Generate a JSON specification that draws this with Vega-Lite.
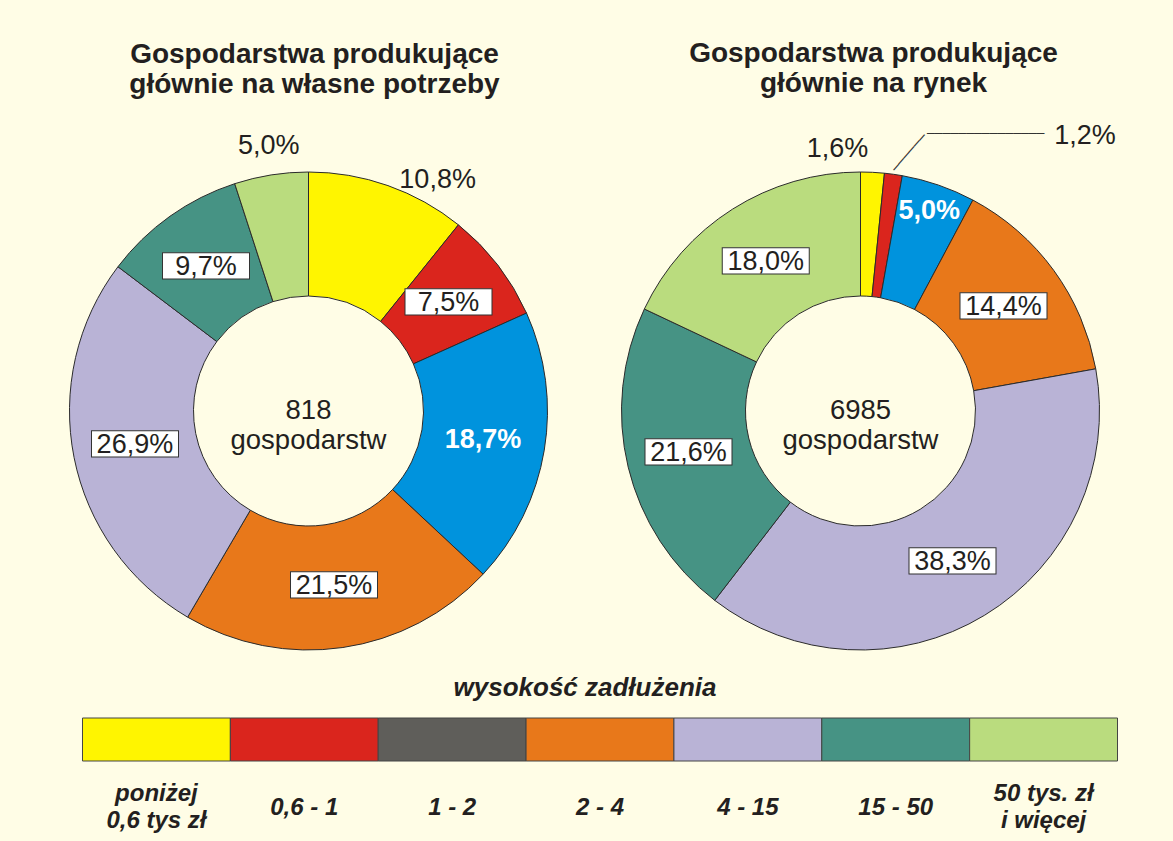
{
  "$schema": "https://vega.github.io/schema/vega-lite/v6.json",
  "background": "#FFFDE6",
  "padding": {"left": 48, "top": 40, "right": 21, "bottom": 20},
  "config": {
    "view": {"stroke": null},
    "font": "Liberation Sans",
    "text": {"font": "Liberation Sans", "fill": "#231F20"}
  },
  "datasets": {
    "left": [
      {"k": 1, "cat": "poniżej 0,6 tys zł", "pct": 10.8, "lab": "10,8%"},
      {"k": 2, "cat": "0,6 - 1", "pct": 7.5, "lab": "7,5%"},
      {"k": 3, "cat": "1 - 2", "pct": 18.7, "lab": "18,7%"},
      {"k": 4, "cat": "2 - 4", "pct": 21.5, "lab": "21,5%"},
      {"k": 5, "cat": "4 - 15", "pct": 26.9, "lab": "26,9%"},
      {"k": 6, "cat": "15 - 50", "pct": 9.7, "lab": "9,7%"},
      {"k": 7, "cat": "50 tys. zł i więcej", "pct": 5.0, "lab": "5,0%"}
    ],
    "right": [
      {"k": 1, "cat": "poniżej 0,6 tys zł", "pct": 1.6, "lab": "1,6%"},
      {"k": 2, "cat": "0,6 - 1", "pct": 1.2, "lab": "1,2%"},
      {"k": 3, "cat": "1 - 2", "pct": 5.0, "lab": "5,0%"},
      {"k": 4, "cat": "2 - 4", "pct": 14.4, "lab": "14,4%"},
      {"k": 5, "cat": "4 - 15", "pct": 38.3, "lab": "38,3%"},
      {"k": 6, "cat": "15 - 50", "pct": 21.6, "lab": "21,6%"},
      {"k": 7, "cat": "50 tys. zł i więcej", "pct": 18.0, "lab": "18,0%"}
    ],
    "legend": [
      {"k": 1, "cat": "poniżej|0,6 tys zł"},
      {"k": 2, "cat": "0,6 - 1"},
      {"k": 3, "cat": "1 - 2"},
      {"k": 4, "cat": "2 - 4"},
      {"k": 5, "cat": "4 - 15"},
      {"k": 6, "cat": "15 - 50"},
      {"k": 7, "cat": "50  tys. zł|i więcej"}
    ]
  },
  "resolve": {"scale": {"color": "independent"}},
  "spacing": 8,
  "vconcat": [
    {
      "spacing": 0,
      "hconcat": [
        {
          "width": 521,
          "height": 500,
          "title": {
            "text": ["Gospodarstwa produkujące", "głównie na własne potrzeby"],
            "font": "Liberation Sans", "fontSize": 28, "fontWeight": "bold", "color": "#231F20",
            "lineHeight": 30, "baseline": "bottom", "offset": 5, "anchor": "middle", "dx": 6
          },
          "data": {"name": "left"},
          "layer": [
            {
              "mark": {"type": "arc", "innerRadius": 115, "outerRadius": 239, "stroke": "#2b2b2b", "strokeWidth": 1},
              "encoding": {
                "theta": {"field": "pct", "type": "quantitative", "stack": true},
                "order": {"field": "k", "type": "quantitative"},
                "color": {"field": "cat", "type": "nominal", "legend": null,
                  "scale": {"domain": ["poniżej 0,6 tys zł", "0,6 - 1", "1 - 2", "2 - 4", "4 - 15", "15 - 50", "50 tys. zł i więcej"],
                            "range": ["#FFF500", "#DA251D", "#0093DD", "#E8781A", "#B9B3D6", "#469384", "#BADC7E"]}}
              }
            },
            {
              "mark": {"type": "text", "font": "Liberation Sans", "fontSize": 87, "radius": 177, "fill": "white", "stroke": "#333", "strokeWidth": 1, "align": "center", "baseline": "middle", "dy": -14},
              "encoding": {
                "theta": {"field": "pct", "type": "quantitative", "stack": true},
                "order": {"field": "k", "type": "quantitative"},
                "detail": {"field": "k", "type": "nominal"},
                "text": {"condition": {"test": "datum.k == 2 || datum.k == 4 || datum.k == 5 || datum.k == 6", "value": "▬"}, "value": ""}
              }
            },
            {
              "mark": {"type": "text", "fontSize": 27, "radius": 177, "align": "center", "baseline": "middle"},
              "encoding": {
                "theta": {"field": "pct", "type": "quantitative", "stack": true},
                "order": {"field": "k", "type": "quantitative"},
                "detail": {"field": "k", "type": "nominal"},
                "text": {"condition": {"test": "datum.k == 2 || datum.k == 4 || datum.k == 5 || datum.k == 6", "field": "lab"}, "value": ""}
              }
            },
            {
              "mark": {"type": "text", "fontSize": 27, "fontWeight": "bold", "fill": "white", "radius": 177, "align": "center", "baseline": "middle"},
              "encoding": {
                "theta": {"field": "pct", "type": "quantitative", "stack": true},
                "order": {"field": "k", "type": "quantitative"},
                "detail": {"field": "k", "type": "nominal"},
                "text": {"condition": {"test": "datum.k == 3", "field": "lab"}, "value": ""}
              }
            },
            {
              "mark": {"type": "text", "fontSize": 27, "radius": 177, "align": "center", "baseline": "middle", "dx": -12, "dy": -90},
              "encoding": {
                "theta": {"field": "pct", "type": "quantitative", "stack": true},
                "order": {"field": "k", "type": "quantitative"},
                "detail": {"field": "k", "type": "nominal"},
                "text": {"condition": {"test": "datum.k == 7", "field": "lab"}, "value": ""}
              }
            },
            {
              "mark": {"type": "text", "fontSize": 27, "radius": 177, "align": "left", "baseline": "middle", "dx": 32, "dy": -64},
              "encoding": {
                "theta": {"field": "pct", "type": "quantitative", "stack": true},
                "order": {"field": "k", "type": "quantitative"},
                "detail": {"field": "k", "type": "nominal"},
                "text": {"condition": {"test": "datum.k == 1", "field": "lab"}, "value": ""}
              }
            },
            {
              "data": {"values": [{"t": "818 gospodarstw"}]},
              "mark": {"type": "text", "fontSize": 27.5, "lineHeight": 30, "lineBreak": " ", "align": "center", "baseline": "middle"},
              "encoding": {"text": {"field": "t", "type": "nominal"}}
            }
          ]
        },
        {
          "width": 583,
          "height": 500,
          "title": {
            "text": ["Gospodarstwa produkujące", "głównie na rynek"],
            "font": "Liberation Sans", "fontSize": 28, "fontWeight": "bold", "color": "#231F20",
            "lineHeight": 30, "baseline": "bottom", "offset": -7, "anchor": "middle", "dx": 13
          },
          "data": {"name": "right"},
          "layer": [
            {
              "mark": {"type": "arc", "innerRadius": 115, "outerRadius": 239, "stroke": "#2b2b2b", "strokeWidth": 1},
              "encoding": {
                "theta": {"field": "pct", "type": "quantitative", "stack": true},
                "order": {"field": "k", "type": "quantitative"},
                "color": {"field": "cat", "type": "nominal", "legend": null,
                  "scale": {"domain": ["poniżej 0,6 tys zł", "0,6 - 1", "1 - 2", "2 - 4", "4 - 15", "15 - 50", "50 tys. zł i więcej"],
                            "range": ["#FFF500", "#DA251D", "#0093DD", "#E8781A", "#B9B3D6", "#469384", "#BADC7E"]}}
              }
            },
            {
              "mark": {"type": "text", "font": "Liberation Sans", "fontSize": 87, "radius": 177, "fill": "white", "stroke": "#333", "strokeWidth": 1, "align": "center", "baseline": "middle", "dy": -14},
              "encoding": {
                "theta": {"field": "pct", "type": "quantitative", "stack": true},
                "order": {"field": "k", "type": "quantitative"},
                "detail": {"field": "k", "type": "nominal"},
                "text": {"condition": {"test": "datum.k >= 4", "value": "▬"}, "value": ""}
              }
            },
            {
              "mark": {"type": "text", "fontSize": 27, "radius": 177, "align": "center", "baseline": "middle"},
              "encoding": {
                "theta": {"field": "pct", "type": "quantitative", "stack": true},
                "order": {"field": "k", "type": "quantitative"},
                "detail": {"field": "k", "type": "nominal"},
                "text": {"condition": {"test": "datum.k >= 4", "field": "lab"}, "value": ""}
              }
            },
            {
              "mark": {"type": "text", "fontSize": 27, "fontWeight": "bold", "fill": "white", "radius": 177, "align": "center", "baseline": "middle", "dx": 11, "dy": -33},
              "encoding": {
                "theta": {"field": "pct", "type": "quantitative", "stack": true},
                "order": {"field": "k", "type": "quantitative"},
                "detail": {"field": "k", "type": "nominal"},
                "text": {"condition": {"test": "datum.k == 3", "field": "lab"}, "value": ""}
              }
            },
            {
              "mark": {"type": "text", "fontSize": 27, "radius": 177, "align": "right", "baseline": "middle", "dx": -1, "dy": -85},
              "encoding": {
                "theta": {"field": "pct", "type": "quantitative", "stack": true},
                "order": {"field": "k", "type": "quantitative"},
                "detail": {"field": "k", "type": "nominal"},
                "text": {"condition": {"test": "datum.k == 1", "field": "lab"}, "value": ""}
              }
            },
            {
              "mark": {"type": "text", "font": "DejaVu Sans Mono", "fontSize": 13, "radius": 243, "angle": -49, "align": "left", "baseline": "middle", "fill": "#333"},
              "encoding": {
                "theta": {"field": "pct", "type": "quantitative", "stack": true},
                "order": {"field": "k", "type": "quantitative"},
                "detail": {"field": "k", "type": "nominal"},
                "text": {"condition": {"test": "datum.k == 2", "value": "──────"}, "value": ""}
              }
            },
            {
              "mark": {"type": "text", "font": "DejaVu Sans Mono", "fontSize": 13, "radius": 280, "align": "left", "baseline": "middle", "dx": 28, "fill": "#333"},
              "encoding": {
                "theta": {"field": "pct", "type": "quantitative", "stack": true},
                "order": {"field": "k", "type": "quantitative"},
                "detail": {"field": "k", "type": "nominal"},
                "text": {"condition": {"test": "datum.k == 2", "value": "───────────────"}, "value": ""}
              }
            },
            {
              "mark": {"type": "text", "fontSize": 27, "radius": 280, "align": "center", "baseline": "middle", "dx": 186, "dy": 2},
              "encoding": {
                "theta": {"field": "pct", "type": "quantitative", "stack": true},
                "order": {"field": "k", "type": "quantitative"},
                "detail": {"field": "k", "type": "nominal"},
                "text": {"condition": {"test": "datum.k == 2", "field": "lab"}, "value": ""}
              }
            },
            {
              "data": {"values": [{"t": "6985 gospodarstw"}]},
              "mark": {"type": "text", "fontSize": 27.5, "lineHeight": 30, "lineBreak": " ", "align": "center", "baseline": "middle"},
              "encoding": {"text": {"field": "t", "type": "nominal"}}
            }
          ]
        }
      ]
    },
    {
      "width": 1104,
      "height": 43,
      "title": {
        "text": "wysokość zadłużenia",
        "font": "Liberation Sans", "fontSize": 26, "fontWeight": "bold", "fontStyle": "italic", "color": "#231F20",
        "baseline": "alphabetic", "offset": -4, "anchor": "middle", "dx": -15
      },
      "data": {"name": "legend"},
      "mark": {"type": "bar", "stroke": "#444", "strokeWidth": 1},
      "encoding": {
        "x": {
          "field": "cat", "type": "nominal",
          "scale": {"domain": ["poniżej|0,6 tys zł", "0,6 - 1", "1 - 2", "2 - 4", "4 - 15", "15 - 50", "50  tys. zł|i więcej"], "paddingInner": 0, "paddingOuter": 0.2333},
          "axis": {
            "title": null, "orient": "bottom", "ticks": false, "domain": false, "labelAngle": 0,
            "labelFont": "Liberation Sans", "labelFontSize": 24, "labelFontWeight": "bold", "labelFontStyle": "italic",
            "labelColor": "#231F20",
            "labelPadding": {"condition": {"test": "indexof(datum.value, '|') >= 0", "value": 32}, "value": 46},
            "labelBaseline": "middle", "labelLineHeight": 27,
            "labelExpr": "split(datum.label, '|')", "labelLimit": 300, "labelOverlap": false
          }
        },
        "color": {
          "field": "cat", "type": "nominal", "legend": null,
          "scale": {"domain": ["poniżej|0,6 tys zł", "0,6 - 1", "1 - 2", "2 - 4", "4 - 15", "15 - 50", "50  tys. zł|i więcej"],
                    "range": ["#FFF500", "#DA251D", "#5F5E5A", "#E8781A", "#B9B3D6", "#469384", "#BADC7E"]}
        }
      }
    }
  ]
}
